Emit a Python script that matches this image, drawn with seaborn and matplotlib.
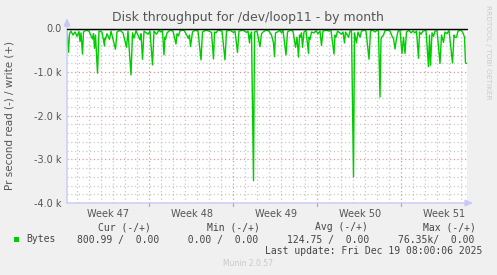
import matplotlib
matplotlib.use("Agg")
import matplotlib.pyplot as plt
import seaborn as sns
import pandas as pd

# ---- data (hours since start of the 33-day window, bytes/s; read is shown negative) ----
hours = [0, 3, 5, 8, 12, 16, 20, 24, 26, 28, 31, 33, 38, 44, 51, 53, 55, 57, 61, 64,
         70, 75, 76, 77, 80, 85, 88, 97, 100, 106, 112, 119, 122, 128, 131, 134, 138,
         146, 148, 151, 154, 162, 166, 171, 174, 179, 184, 188, 191, 194, 196, 197, 200,
         206, 212, 218, 220, 223, 226, 234, 243, 245, 247, 251, 256, 262, 268, 271, 278,
         284, 289, 293, 295, 298, 302, 310, 316, 319, 326, 333, 336, 341, 344, 352, 359,
         362, 365, 366, 367, 369, 373, 375, 380, 386, 389, 392, 398, 404, 409, 413, 415,
         417, 421, 426, 429, 432, 438, 441, 446, 452, 457, 460, 463, 465, 467, 469, 471,
         474, 478, 483, 484, 486, 489, 494, 498, 502, 506, 509, 512, 518, 524, 528, 534,
         536, 538, 541, 549, 552, 555, 557, 563, 566, 569, 573, 575, 579, 582, 586, 589,
         594, 598, 604, 607, 612, 616, 620, 623, 626, 628, 629, 633, 636, 642, 646, 651,
         653, 656, 659, 662, 666, 670, 673, 676, 679, 684, 688, 692, 696, 699, 703, 705,
         708, 712, 718, 723, 725, 727, 730, 733, 736, 740, 746, 749, 753, 756, 760, 764,
         771, 774, 776, 779, 782, 788, 792, 795, 797, 799]
read_bytes = [60, 545, 120, 60, 150, 80, 180, 70, 300, 100, 585, 80, 40, 60, 240, 120, 455, 150, 1025, 60,
              80, 400, 220, 250, 120, 250, 60, 475, 80, 40, 100, 430, 60, 1065, 100, 220, 50,
              260, 120, 705, 60, 130, 60, 835, 60, 130, 40, 80, 50, 605, 200, 250, 100,
              40, 60, 355, 120, 170, 50, 40, 230, 150, 415, 80, 40, 60, 720, 80, 40,
              60, 90, 700, 80, 100, 40, 60, 720, 60, 40, 90, 60, 550, 60, 40, 90,
              60, 330, 150, 220, 80, 3490, 80, 60, 415, 120, 80, 40, 60, 150, 330, 645,
              100, 80, 40, 100, 40, 605, 80, 40, 60, 430, 200, 655, 150, 200, 100, 430,
              80, 40, 570, 200, 250, 80, 100, 50, 120, 60, 390, 60, 40, 60, 40, 585,
              150, 200, 60, 130, 80, 330, 80, 200, 60, 40, 3400, 100, 330, 80, 200, 60,
              40, 60, 705, 60, 40, 80, 40, 60, 1570, 250, 200, 150, 50, 40, 60, 200,
              230, 470, 230, 60, 40, 570, 200, 570, 80, 40, 100, 60, 100, 60, 680, 80,
              130, 60, 40, 875, 150, 840, 100, 180, 60, 40, 800, 150, 320, 80, 120, 40,
              790, 150, 200, 200, 60, 40, 100, 200, 790, 801]
write_bytes = [0.0] * len(hours)

week_labels = ["Week 47", "Week 48", "Week 49", "Week 50", "Week 51"]
week_label_hours = [82, 250, 418, 586, 754]
week_start_hours = [164, 332, 500, 668]
y_ticks = [0, -1000, -2000, -3000, -4000]
y_tick_labels = ["0.0", "-1.0 k", "-2.0 k", "-3.0 k", "-4.0 k"]

series_name = "Bytes"
stat_headers = ["Cur (-/+)", "Min (-/+)", "Avg (-/+)", "Max (-/+)"]
stat_values = ["800.99 /  0.00", "  0.00 /  0.00", "124.75 /  0.00", "76.35k/  0.00"]
title = "Disk throughput for /dev/loop11 - by month"
ylabel = "Pr second read (-) / write (+)"
last_update = "Last update: Fri Dec 19 08:00:06 2025"
footer = "Munin 2.0.57"
side_text = "RRDTOOL / TOBI OETIKER"

df = pd.DataFrame({"hours": hours,
                   "value": [-v for v in read_bytes],
                   "write": write_bytes})

# ---- figure ----
sns.set_style("white")
plt.rcParams["font.family"] = ["DejaVu Sans"]
W, H = 497, 275
fig = plt.figure(figsize=(W / 100, H / 100), dpi=100, facecolor="#F0F0F0")
L, R, T, B = 67, 467, 28.5, 203
ax = fig.add_axes([L / W, 1 - B / H, (R - L) / W, (B - T) / H])
ax.set_facecolor("white")

ax.set_xlim(0, 800)
ax.set_ylim(-4000, 0)

# grid
minor_col = "#C8C8C8"
major_col = "#E09898"
for hx in range(20, 800, 24):
    if hx in week_start_hours:
        continue
    ax.axvline(hx, color=minor_col, lw=0.9, ls=(0, (1, 2)), zorder=1)
for hy in range(-3800, 0, 200):
    if hy % 1000 == 0:
        continue
    ax.axhline(hy, color=minor_col, lw=0.9, ls=(0, (1, 2)), zorder=1)
for hx in week_start_hours:
    ax.axvline(hx, color=major_col, lw=0.9, ls=(0, (1, 2)), zorder=1)
for hy in y_ticks[1:]:
    ax.axhline(hy, color=major_col, lw=0.9, ls=(0, (1, 2)), zorder=1)

sns.lineplot(data=df, x="hours", y="value", ax=ax, color="#00CC00", lw=1.0,
             zorder=3, legend=False)
sns.lineplot(data=df, x="hours", y="write", ax=ax, color="#00CC00", lw=1.0,
             zorder=3, legend=False)
ax.axhline(0, color="black", lw=1.0, zorder=4, clip_on=False)

for s in ax.spines.values():
    s.set_visible(False)
ax.set_xlabel("")
ax.set_ylabel("")
ax.set_xticks(week_label_hours)
ax.set_xticklabels(week_labels, fontsize=7, color="#555555")
ax.set_yticks(y_ticks)
ax.set_yticklabels(y_tick_labels, fontsize=7, color="#555555")
ax.tick_params(axis="both", length=0, pad=4)

# small red tick marks at week boundaries below the x axis
for hx in week_start_hours:
    ax.plot([hx, hx], [0, -0.018], transform=ax.get_xaxis_transform(),
            color=major_col, lw=0.9, clip_on=False, zorder=2)

# axes arrows
axis_col = "#C8C8F8"
ax.annotate("", xy=(0, 1.06), xytext=(0, 0), xycoords="axes fraction",
            arrowprops=dict(arrowstyle="-|>,head_length=0.45,head_width=0.2",
                            color=axis_col, lw=1.0, shrinkA=0, shrinkB=0))
ax.annotate("", xy=(1.015, 0), xytext=(0, 0), xycoords="axes fraction",
            arrowprops=dict(arrowstyle="-|>,head_length=0.45,head_width=0.2",
                            color=axis_col, lw=1.0, shrinkA=0, shrinkB=0))


def px(x, y):
    return x / W, 1 - y / H


fig.text(*px(248, 18), title, ha="center", va="center", fontsize=9, color="#555555")
fig.text(*px(10, 115), ylabel, ha="center", va="center", rotation=90,
         fontsize=7.5, color="#555555")
fig.text(*px(488, 52), side_text, ha="center", va="center", rotation=-90,
         fontsize=5.3, color="#CCCCCC")

mono = "DejaVu Sans Mono"
header_x = [98, 207, 315, 423]
value_x = [77, 176, 287, 398]
for hx_, txt in zip(header_x, stat_headers):
    fig.text(*px(hx_, 227), txt, ha="left", va="center", fontsize=7,
             family=mono, color="#444444")
fig.patches.append(plt.Rectangle(px(14, 242), 5 / W, 5 / H, transform=fig.transFigure,
                                 facecolor="#00CC00", edgecolor="none"))
fig.text(*px(26.5, 239.5), series_name, ha="left", va="center", fontsize=7,
         family=mono, color="#444444")
for vx, txt in zip(value_x, stat_values):
    fig.text(*px(vx, 239.5), txt, ha="left", va="center", fontsize=7,
             family=mono, color="#444444")
fig.text(*px(482.5, 251.5), last_update, ha="right", va="center", fontsize=7,
         family=mono, color="#444444")
fig.text(*px(248, 264), footer, ha="center", va="center", fontsize=5.5,
         color="#C8C8C8")

fig.savefig("out.png", dpi=100, facecolor=fig.get_facecolor())
